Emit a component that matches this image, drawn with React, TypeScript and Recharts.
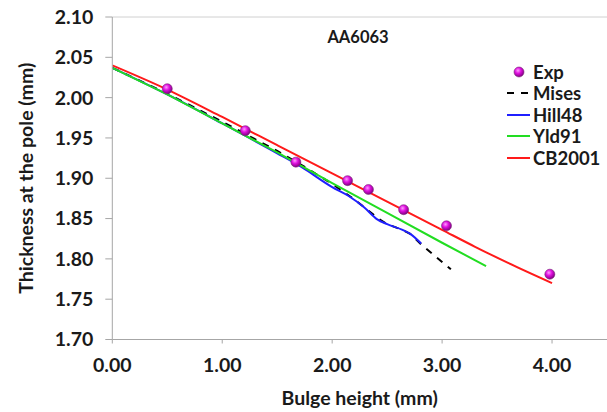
import React from 'react';
import { ComposedChart, Line, Scatter, XAxis, YAxis, ReferenceLine, Legend } from 'recharts';

const expX = [0.5, 1.21, 1.67, 2.14, 2.33, 2.65, 3.04, 3.98];
const expY = [2.011, 1.959, 1.92, 1.897, 1.886, 1.861, 1.841, 1.781];

const misesX = [0, 0.5, 1.0, 1.5, 1.75, 2.0, 2.2, 2.43, 2.5, 2.64, 2.71, 2.81, 2.94, 3.08];
const misesY = [2.037, 2.005, 1.97, 1.934, 1.914, 1.893, 1.874, 1.849, 1.843, 1.836, 1.831, 1.818, 1.803, 1.787];

const hillX = [0, 0.5, 1.0, 1.5, 1.72, 2.0, 2.15, 2.29, 2.41, 2.5, 2.64, 2.71, 2.81];
const hillY = [2.037, 2.004, 1.968, 1.931, 1.914, 1.889, 1.878, 1.864, 1.849, 1.843, 1.836, 1.831, 1.819];

const yldX = [0, 0.5, 1.0, 1.5, 2.0, 2.5, 3.0, 3.4];
const yldY = [2.037, 2.004, 1.968, 1.932, 1.894, 1.857, 1.82, 1.791];

const cbX = [0, 0.5, 1.0, 1.5, 2.0, 2.5, 3.0, 3.3, 3.6, 4.0];
const cbY = [2.04, 2.01, 1.976, 1.941, 1.906, 1.871, 1.836, 1.815, 1.795, 1.77];

const xTicks = [0, 1, 2, 3, 4];
const yTicks = [1.7, 1.75, 1.8, 1.85, 1.9, 1.95, 2.0, 2.05, 2.1];

const zip = (xs: number[], ys: number[]) => xs.map((x, i) => ({ x, y: ys[i] }));

const expData = zip(expX, expY);
const misesData = zip(misesX, misesY);
const hillData = zip(hillX, hillY);
const yldData = zip(yldX, yldY);
const cbData = zip(cbX, cbY);

const FONT = 'Lato, "Noto Sans", sans-serif';
const AXIS = '#a6a6a6';
const TXT = '#1a1a1a';

const Ball = (props: any) => {
  const { cx, cy, index } = props;
  if (cx == null || cy == null) return null;
  const id = `ballg${index}`;
  return (
    <g>
      <defs>
        <radialGradient id={id} cx="40%" cy="35%" r="65%">
          <stop offset="0%" stopColor="#ff9cff" />
          <stop offset="45%" stopColor="#e010e0" />
          <stop offset="100%" stopColor="#800080" />
        </radialGradient>
      </defs>
      <circle cx={cx} cy={cy} r={5} fill={`url(#${id})`} stroke="#7a2a7a" strokeWidth={0.6} />
    </g>
  );
};

const legendItems = [
  { name: 'Exp', type: 'ball' },
  { name: 'Mises', type: 'line', color: '#000000', dash: '7 7' },
  { name: 'Hill48', type: 'line', color: '#1f1fff' },
  { name: 'Yld91', type: 'line', color: '#22dd22' },
  { name: 'CB2001', type: 'line', color: '#ff1a1a' },
];

const LegendContent = () => (
  <div style={{ fontFamily: FONT, fontWeight: 700, fontSize: 18.5, color: TXT }}>
    {legendItems.map((it) => (
      <div key={it.name} style={{ display: 'flex', alignItems: 'center', height: 21.5 }}>
        <svg width={26} height={12} style={{ display: 'block' }}>
          {it.type === 'ball' ? (
            <g>
              <defs>
                <radialGradient id="legball" cx="40%" cy="35%" r="65%">
                  <stop offset="0%" stopColor="#ff9cff" />
                  <stop offset="45%" stopColor="#e010e0" />
                  <stop offset="100%" stopColor="#800080" />
                </radialGradient>
              </defs>
              <circle cx={12} cy={6} r={5} fill="url(#legball)" stroke="#7a2a7a" strokeWidth={0.6} />
            </g>
          ) : (
            <line x1={0} y1={6} x2={23} y2={6} stroke={it.color} strokeWidth={2} strokeDasharray={it.dash} />
          )}
        </svg>
        <span>{it.name}</span>
      </div>
    ))}
  </div>
);

export default function App() {
  return (
    <div style={{ position: 'absolute', left: 0, top: 0, width: 607, height: 412, background: '#fff' }}>
      <ComposedChart width={607} height={412} margin={{ top: 17, right: 0, bottom: 0, left: 0 }}>
        <XAxis
          dataKey="x"
          type="number"
          domain={[0, 4.5]}
          ticks={xTicks}
          tickFormatter={(v: number) => v.toFixed(2)}
          height={72.5}
          stroke={AXIS}
          tickSize={4}
          tickMargin={15}
          tick={{ fill: TXT, fontSize: 19.5, fontFamily: FONT, fontWeight: 700 }}
          allowDataOverflow
          label={{
            value: 'Bulge height (mm)',
            position: 'insideBottom',
            offset: 7,
            style: { fill: TXT, fontSize: 19.5, fontFamily: FONT, fontWeight: 700 },
          }}
        />
        <YAxis
          dataKey="y"
          type="number"
          domain={[1.7, 2.1]}
          ticks={yTicks}
          tickFormatter={(v: number) => v.toFixed(2)}
          width={112.3}
          stroke={AXIS}
          tickSize={7}
          tickMargin={12}
          interval={0}
          tick={{ fill: TXT, fontSize: 19.5, fontFamily: FONT, fontWeight: 700 }}
          allowDataOverflow
          label={{
            content: (p: any) => {
              const vb = p.viewBox || { x: 0, y: 17, width: 112, height: 322 };
              const cx = vb.x + 25;
              const cy = vb.y + vb.height / 2;
              return (
                <text
                  x={cx}
                  y={cy}
                  transform={`rotate(-90 ${cx} ${cy})`}
                  textAnchor="middle"
                  dominantBaseline="central"
                  fill={TXT}
                  fontSize={19.5}
                  fontFamily={FONT}
                  fontWeight={700}
                >
                  Thickness at the pole (mm)
                </text>
              );
            },
          }}
        />
        <ReferenceLine y={2.1} stroke="#d0d0d0" strokeWidth={1} ifOverflow="extendDomain" />
        <Line data={misesData} dataKey="y" name="Mises" stroke="#000000" strokeWidth={2} strokeDasharray="7 7" dot={false} isAnimationActive={false} type="linear" />
        <Line data={hillData} dataKey="y" name="Hill48" stroke="#1f1fff" strokeWidth={2} dot={false} isAnimationActive={false} type="monotone" />
        <Line data={yldData} dataKey="y" name="Yld91" stroke="#22dd22" strokeWidth={2} dot={false} isAnimationActive={false} type="linear" />
        <Line data={cbData} dataKey="y" name="CB2001" stroke="#ff1a1a" strokeWidth={2} dot={false} isAnimationActive={false} type="monotone" />
        <Scatter data={expData} dataKey="y" name="Exp" shape={<Ball />} isAnimationActive={false} />
        <Legend
          layout="horizontal"
          verticalAlign="middle"
          align="center"
          content={<LegendContent />}
          wrapperStyle={{ position: 'absolute', left: 507, top: 61, width: 100 }}
        />
      </ComposedChart>
      <div
        style={{
          position: 'absolute',
          left: 300,
          top: 27,
          width: 116,
          textAlign: 'center',
          fontFamily: FONT,
          fontWeight: 700,
          fontSize: 16.5,
          lineHeight: '20px',
          color: TXT,
        }}
      >
        AA6063
      </div>
    </div>
  );
}
